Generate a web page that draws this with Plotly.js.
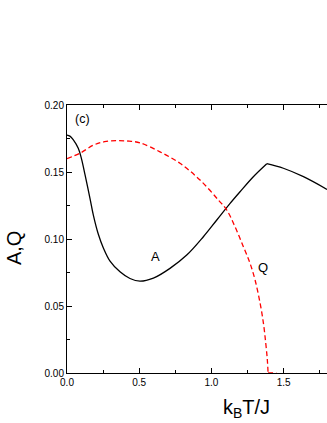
<!DOCTYPE html>
<html>
<head>
<meta charset="utf-8">
<script src="https://cdn.plot.ly/plotly-3.0.1.min.js"></script>
<style>html,body{margin:0;padding:0;overflow:hidden;background:#fff;}</style>
</head>
<body>
<div id="chart" style="width:327px;height:423px;"></div>
<script>
// A curve (black solid)
const tA = [0, 0.02, 0.044, 0.078, 0.10, 0.125, 0.159, 0.182, 0.217, 0.251, 0.298, 0.367, 0.436, 0.505, 0.598, 0.713, 0.829, 0.944, 1.037, 1.129, 1.198, 1.29, 1.383, 1.498, 1.637, 1.80];
const A  = [0.1776, 0.1768, 0.174, 0.1677, 0.160, 0.1478, 0.1304, 0.118, 0.1035, 0.0935, 0.0835, 0.0755, 0.0705, 0.0685, 0.0708, 0.0781, 0.088, 0.1017, 0.1142, 0.1266, 0.1353, 0.1465, 0.1562, 0.1528, 0.1465, 0.137];
// Q curve (red dashed)
const tQ = [0, 0.09, 0.182, 0.26, 0.344, 0.43, 0.505, 0.644, 0.782, 0.921, 1.048, 1.106, 1.163, 1.221, 1.267, 1.302, 1.337, 1.360, 1.376, 1.387, 1.392, 1.45];
const Q  = [0.160, 0.164, 0.170, 0.1726, 0.1734, 0.1730, 0.1718, 0.165, 0.1565, 0.144, 0.1291, 0.1216, 0.1092, 0.0943, 0.0819, 0.0694, 0.052, 0.0371, 0.0222, 0.0097, 0, 0];
// labels
const xTicks = [0, 0.5, 1.0, 1.5];
const xTickText = ['0.0', '0.5', '1.0', '1.5'];
const yTicks = [0, 0.05, 0.10, 0.15, 0.20];
const yTickText = ['0.00', '0.05', '0.10', '0.15', '0.20'];

// split A at its kink (peak) so the spline keeps the corner sharp
const kA = A.indexOf(Math.max(...A.slice(10)));
const kQ = Q.indexOf(0);

const font = 'Liberation Sans, Arial, sans-serif';
const blk = {color: '#000000', width: 1.3, shape: 'spline', smoothing: 1};
const red = {color: '#ff0000', width: 1.3, dash: '5px,3px', shape: 'spline', smoothing: 1};
const data = [
  {x: tA.slice(0, kA + 1), y: A.slice(0, kA + 1), mode: 'lines', line: blk, hoverinfo: 'skip'},
  {x: tA.slice(kA), y: A.slice(kA), mode: 'lines', line: blk, hoverinfo: 'skip'},
  {x: tQ.slice(0, kQ + 1), y: Q.slice(0, kQ + 1), mode: 'lines', line: red, hoverinfo: 'skip', cliponaxis: false},
  {x: tQ.slice(kQ), y: Q.slice(kQ), mode: 'lines', line: Object.assign({}, red, {shape: 'linear'}), hoverinfo: 'skip', cliponaxis: false}
];
const axisCommon = {
  showgrid: false, zeroline: false, showline: true, linecolor: '#000', linewidth: 1,
  ticks: 'inside', ticklen: 5, tickwidth: 1, tickcolor: '#000',
  tickfont: {family: font, size: 10, color: '#000'}, fixedrange: true
};
const layout = {
  width: 327, height: 423,
  margin: {l: 67, r: 0, t: 105, b: 50},
  paper_bgcolor: '#fff', plot_bgcolor: '#fff',
  showlegend: false,
  xaxis: Object.assign({}, axisCommon, {
    mirror: 'ticks',
    range: [0, 1.8], tickvals: xTicks, ticktext: xTickText,
    minor: {dtick: 0.25, tick0: 0, ticks: 'inside', ticklen: 3, tickcolor: '#000', showgrid: false}
  }),
  yaxis: Object.assign({}, axisCommon, {
    mirror: false,
    range: [0, 0.2], tickvals: yTicks, ticktext: yTickText,
    minor: {dtick: 0.025, tick0: 0, ticks: 'inside', ticklen: 3, tickcolor: '#000', showgrid: false}
  }),
  annotations: [
    {text: 'k<sub>B</sub>T/J', xref: 'paper', yref: 'paper', x: 0.692, y: -0.078, xanchor: 'center', yanchor: 'top', showarrow: false, font: {family: font, size: 20, color: '#000'}},
    {text: 'A,Q', xref: 'paper', yref: 'paper', x: -0.204, y: 0.466, xanchor: 'center', yanchor: 'middle', textangle: -90, showarrow: false, font: {family: font, size: 20, color: '#000'}},
    {text: '(c)', xref: 'x', yref: 'y', x: 0.108, y: 0.1898, xanchor: 'center', yanchor: 'middle', showarrow: false, font: {family: font, size: 12.5, color: '#000'}},
    {text: 'A', xref: 'x', yref: 'y', x: 0.616, y: 0.0866, xanchor: 'center', yanchor: 'middle', showarrow: false, font: {family: font, size: 13, color: '#000'}},
    {text: 'Q', xref: 'x', yref: 'y', x: 1.360, y: 0.0786, xanchor: 'center', yanchor: 'middle', showarrow: false, font: {family: font, size: 13, color: '#000'}}
  ]
};
Plotly.newPlot('chart', data, layout, {displayModeBar: false, staticPlot: true});
</script>
</body>
</html>
